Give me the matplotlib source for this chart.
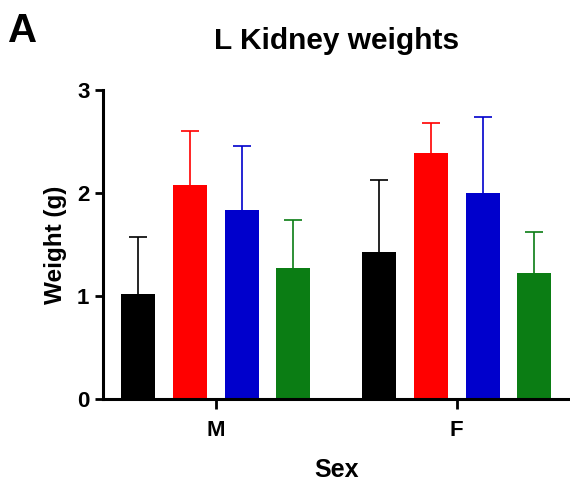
import matplotlib
matplotlib.use("Agg")
import matplotlib.pyplot as plt
import numpy as np

plt.rcParams['font.family'] = ['Liberation Sans', 'DejaVu Sans']
plt.rcParams['font.weight'] = 'bold'

groups = ["M", "F"]
series_colors = ["#000000", "#FF0000", "#0000CC", "#0B7D14"]
means = {
    "M": [1.02, 2.08, 1.835, 1.27],
    "F": [1.43, 2.385, 1.997, 1.226],
}
err_upper = {
    "M": [1.57, 2.60, 2.456, 1.735],
    "F": [2.13, 2.677, 2.735, 1.618],
}

fig = plt.figure(figsize=(5.70, 4.86), dpi=100)
ax = fig.add_axes([0.1807, 0.179, 0.8193, 0.636])

spacing = 0.2145
width = 0.141
offsets = (np.arange(4) - 1.5) * spacing
for gi, g in enumerate(groups):
    for si in range(4):
        x = gi + offsets[si]
        m = means[g][si]
        e = err_upper[g][si] - m
        ax.bar(x, m, width=width, color=series_colors[si], linewidth=0, zorder=2)
        _, caps, _ = ax.errorbar(x, m, yerr=[[0], [e]], fmt='none', ecolor=series_colors[si],
                                 elinewidth=1.2, capsize=6.5, capthick=1.2, zorder=1)
        if len(caps) == 2:
            caps[0].set_visible(False)

ax.set_xlim(-0.469, 1.47)
ax.set_ylim(0, 3)
ax.set_yticks([0, 1, 2, 3])
ax.set_xticks([0, 1])
ax.set_xticklabels(groups)
for s in ['top', 'right']:
    ax.spines[s].set_visible(False)
for s in ['left', 'bottom']:
    ax.spines[s].set_linewidth(2.2)
ax.tick_params(axis='y', length=5.8, width=2.0, labelsize=16, pad=4)
ax.tick_params(axis='x', length=7, width=2.0, labelsize=16, pad=8)
for lbl in ax.get_xticklabels() + ax.get_yticklabels():
    lbl.set_fontweight('bold')
ax.set_ylabel("Weight (g)", fontsize=17.5, fontweight='bold', labelpad=7)
ax.set_xlabel("Sex", fontsize=18, fontweight='bold', labelpad=12)
ax.set_title("L Kidney weights", fontsize=21.5, fontweight='bold', pad=29.5)
fig.text(0.014, 0.9136, "A", fontsize=29, fontweight='bold')

fig.savefig("out.png", dpi=100)
